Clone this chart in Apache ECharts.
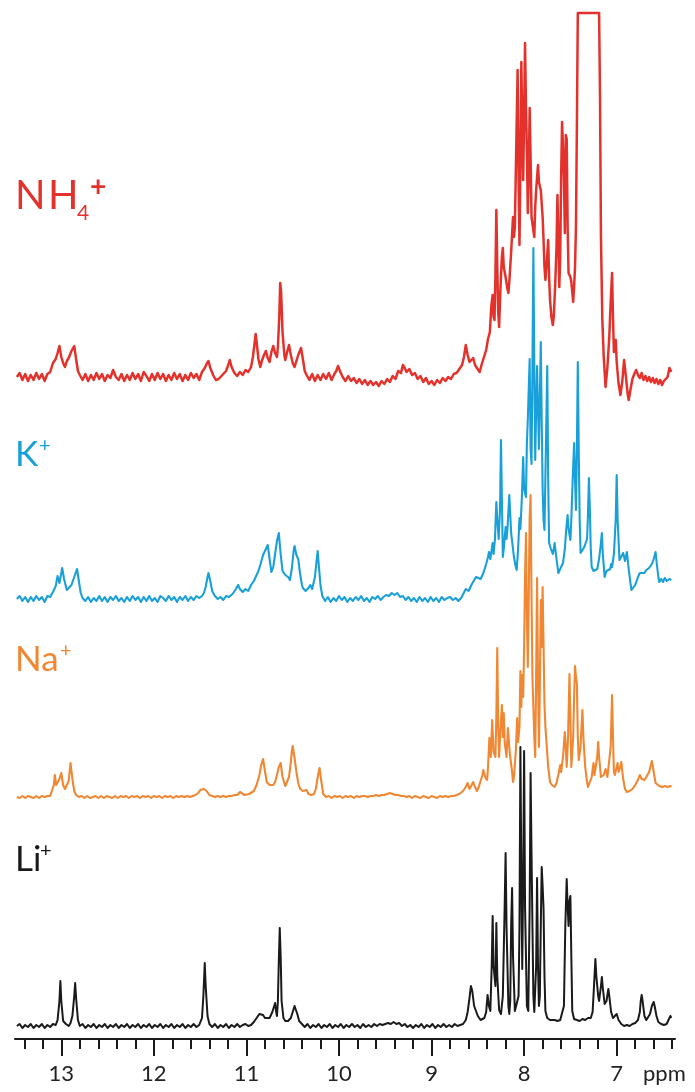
<!DOCTYPE html>
<html>
<head>
<meta charset="utf-8">
<title>1H NMR spectra</title>
<script src="https://cdn.jsdelivr.net/npm/echarts@6/dist/echarts.min.js"></script>
<style>
  html, body { margin: 0; padding: 0; background: #ffffff; }
  #chart { width: 695px; height: 1092px; }
</style>
</head>
<body>
<div id="chart"></div>
<script>
// Chemical-shift ticks (ppm)
const majorTicks = [7, 8, 9, 10, 11, 12, 13];
const minorTicks = [6.4, 6.6, 6.8, 7.2, 7.4, 7.6, 7.8, 8.2, 8.4, 8.6, 8.8, 9.2, 9.4, 9.6, 9.8,
  10.2, 10.4, 10.6, 10.8, 11.2, 11.4, 11.6, 11.8, 12.2, 12.4, 12.6, 12.8, 13.2, 13.4];

// Spectra: [ppm, intensity above own baseline]
const nh4Trace = [
 [13.48,0],[13.45,4],[13.42,-3],[13.39,3],[13.36,-4],[13.33,2],[13.30,-3],[13.27,4],[13.24,-2],[13.21,3],[13.18,-4],[13.15,3],[13.12,5],[13.09,14],[13.06,18],[13.04,24],[13.02,31],[13.00,20],[12.98,14],[12.96,10],[12.94,16],[12.92,19],[12.89,26],[12.86,31],[12.84,18],[12.82,6],[12.80,2],[12.77,-3],[12.74,3],[12.71,-4],[12.68,2],[12.65,-3],[12.62,4],[12.59,-2],[12.56,3],[12.53,-4],[12.50,2],[12.47,-1],[12.44,7],[12.41,0],[12.38,-3],[12.35,3],[12.32,-4],[12.29,2],[12.26,-3],[12.23,4],[12.20,-2],[12.17,3],[12.14,-4],[12.11,5],[12.08,1],[12.05,-4],[12.02,3],[11.99,-3],[11.96,4],[11.93,-2],[11.90,3],[11.87,-4],[11.84,2],[11.81,-3],[11.78,4],[11.75,-2],[11.72,3],[11.69,-4],[11.66,2],[11.63,-3],[11.60,4],[11.57,-1],[11.54,3],[11.51,-3],[11.48,5],[11.45,9],[11.43,13],[11.41,16],[11.39,9],[11.36,2],[11.33,-3],[11.30,-2],[11.28,-4],[11.25,3],[11.22,6],[11.20,11],[11.18,17],[11.16,10],[11.13,4],[11.10,1],[11.07,5],[11.04,2],[11.01,7],[10.98,5],[10.95,10],[10.93,20],[10.91,35],[10.90,43],[10.89,35],[10.87,18],[10.85,10],[10.83,17],[10.81,22],[10.79,26],[10.77,19],[10.75,15],[10.73,25],[10.71,31],[10.69,24],[10.67,20],[10.66,30],[10.645,60],[10.635,94],[10.625,85],[10.61,45],[10.59,22],[10.58,17],[10.56,25],[10.54,32],[10.52,22],[10.50,14],[10.48,10],[10.46,16],[10.44,22],[10.41,29],[10.39,18],[10.37,6],[10.35,2],[10.32,-3],[10.29,3],[10.26,-4],[10.23,2],[10.20,-3],[10.17,3],[10.14,-2],[10.11,4],[10.08,-3],[10.05,3],[10.03,6],[10.01,11],[9.99,6],[9.96,0],[9.93,-4],[9.90,1],[9.87,-4],[9.84,-1],[9.81,-6],[9.78,-2],[9.75,-7],[9.72,-3],[9.69,-8],[9.66,-4],[9.63,-8],[9.60,-5],[9.57,-9],[9.54,-4],[9.51,-7],[9.48,-2],[9.45,-5],[9.42,1],[9.39,-2],[9.36,6],[9.33,4],[9.31,12],[9.29,9],[9.27,5],[9.24,8],[9.21,2],[9.18,4],[9.15,-2],[9.12,1],[9.09,-5],[9.06,-1],[9.03,-7],[9.00,-4],[8.97,-8],[8.94,-3],[8.91,-6],[8.88,-1],[8.85,-4],[8.82,0],[8.79,-2],[8.76,3],[8.73,4],[8.70,8],[8.67,12],[8.65,20],[8.63,32],[8.61,22],[8.59,15],[8.57,17],[8.55,19],[8.53,12],[8.51,9],[8.48,5],[8.46,12],[8.44,18],[8.41,27],[8.39,38],[8.37,45],[8.355,70],[8.34,82],[8.33,60],[8.32,57],[8.31,100],[8.30,167],[8.29,110],[8.28,65],[8.27,50],[8.255,90],[8.24,120],[8.23,129],[8.22,110],[8.20,100],[8.18,88],[8.17,84],[8.16,95],[8.14,125],[8.12,160],[8.11,140],[8.10,150],[8.085,230],[8.07,307],[8.06,200],[8.05,132],[8.04,210],[8.03,315],[8.02,250],[8.01,197],[8.00,260],[7.99,334],[7.98,270],[7.97,227],[7.96,164],[7.95,200],[7.94,269],[7.93,220],[7.92,160],[7.91,160],[7.89,140],[7.88,170],[7.87,187],[7.85,212],[7.84,195],[7.82,187],[7.80,160],[7.79,137],[7.78,110],[7.77,97],[7.755,115],[7.74,137],[7.73,100],[7.72,77],[7.705,60],[7.69,52],[7.68,60],[7.665,90],[7.65,130],[7.64,182],[7.63,140],[7.62,90],[7.61,120],[7.60,200],[7.59,255],[7.58,230],[7.57,200],[7.56,144],[7.55,242],[7.54,238],[7.53,150],[7.52,104],[7.50,100],[7.49,95],[7.48,85],[7.47,75],[7.46,90],[7.45,110],[7.44,150],[7.43,250],[7.42,364],[7.19,364],[7.18,280],[7.17,140],[7.155,57],[7.14,20],[7.12,-10],[7.10,10],[7.08,40],[7.065,75],[7.05,104],[7.04,60],[7.03,25],[7.02,30],[7.01,37],[7.00,15],[6.98,-6],[6.96,-18],[6.94,-5],[6.92,17],[6.90,0],[6.88,-18],[6.87,-23],[6.85,-12],[6.83,-2],[6.81,3],[6.79,7],[6.77,2],[6.75,-1],[6.73,4],[6.71,-3],[6.69,1],[6.67,-4],[6.65,0],[6.63,-5],[6.61,-1],[6.59,-6],[6.57,-2],[6.55,-7],[6.53,-3],[6.51,-8],[6.49,-4],[6.47,-6],[6.45,0],[6.43,9],[6.41,5]
];

const kTrace = [
 [13.48,0],[13.45,3],[13.42,-2],[13.39,2],[13.36,-3],[13.33,2],[13.30,-2],[13.27,3],[13.24,-1],[13.21,2],[13.18,-3],[13.15,3],[13.12,2],[13.09,7],[13.06,13],[13.04,23],[13.02,16],[12.99,31],[12.97,20],[12.94,9],[12.92,10],[12.89,14],[12.86,22],[12.83,30],[12.81,18],[12.79,6],[12.77,1],[12.74,-2],[12.71,2],[12.68,-3],[12.65,1],[12.62,-2],[12.59,3],[12.56,-2],[12.53,2],[12.50,-3],[12.47,2],[12.44,-1],[12.41,3],[12.38,-2],[12.35,1],[12.32,-3],[12.29,2],[12.26,-2],[12.23,3],[12.20,-1],[12.17,2],[12.14,-3],[12.11,2],[12.08,-2],[12.05,3],[12.02,-2],[11.99,1],[11.96,-3],[11.93,3],[11.90,1],[11.87,-2],[11.84,3],[11.81,-1],[11.78,2],[11.75,-3],[11.72,2],[11.69,-1],[11.66,3],[11.63,-2],[11.60,2],[11.57,-1],[11.54,3],[11.51,1],[11.48,3],[11.46,6],[11.44,12],[11.42,22],[11.41,26],[11.39,18],[11.37,8],[11.34,3],[11.31,0],[11.28,2],[11.25,-1],[11.22,3],[11.19,2],[11.15,5],[11.12,9],[11.09,14],[11.07,10],[11.04,7],[11.01,10],[10.98,8],[10.95,14],[10.92,18],[10.89,24],[10.87,28],[10.85,34],[10.82,44],[10.79,50],[10.77,54],[10.75,40],[10.73,27],[10.71,32],[10.69,45],[10.67,58],[10.65,66],[10.63,45],[10.61,28],[10.60,26],[10.58,24],[10.57,26],[10.55,22],[10.53,19],[10.51,30],[10.49,48],[10.48,53],[10.46,44],[10.44,40],[10.42,25],[10.40,14],[10.39,11],[10.36,8],[10.33,11],[10.31,14],[10.29,10],[10.28,12],[10.26,22],[10.24,40],[10.23,48],[10.22,36],[10.20,14],[10.18,3],[10.15,-2],[10.12,2],[10.09,-3],[10.06,1],[10.03,-2],[10.00,3],[9.97,-1],[9.94,2],[9.91,-3],[9.88,1],[9.85,-2],[9.82,2],[9.79,-1],[9.76,3],[9.73,-2],[9.70,1],[9.67,-3],[9.64,2],[9.61,0],[9.58,3],[9.55,-1],[9.52,2],[9.49,4],[9.46,3],[9.43,6],[9.40,4],[9.37,6],[9.34,2],[9.31,3],[9.28,-1],[9.25,2],[9.22,-2],[9.19,1],[9.16,-3],[9.13,2],[9.10,-2],[9.07,1],[9.04,-3],[9.01,2],[8.98,-2],[8.95,1],[8.92,-3],[8.89,2],[8.86,-1],[8.83,1],[8.80,2],[8.77,-1],[8.74,1],[8.71,-2],[8.68,1],[8.66,3],[8.63,10],[8.60,8],[8.57,14],[8.55,12],[8.52,22],[8.50,24],[8.47,20],[8.44,26],[8.41,35],[8.39,42],[8.38,47],[8.365,40],[8.35,39],[8.34,56],[8.33,45],[8.315,60],[8.30,97],[8.29,80],[8.275,60],[8.26,90],[8.25,159],[8.24,100],[8.23,42],[8.22,50],[8.20,72],[8.19,60],[8.18,70],[8.16,104],[8.15,85],[8.14,66],[8.12,50],[8.11,42],[8.09,32],[8.08,29],[8.065,50],[8.05,81],[8.04,70],[8.025,100],[8.01,142],[8.00,110],[7.98,102],[7.97,156],[7.96,180],[7.95,210],[7.94,240],[7.93,150],[7.92,135],[7.91,230],[7.90,351],[7.89,230],[7.88,139],[7.87,190],[7.86,233],[7.85,190],[7.84,150],[7.83,200],[7.82,257],[7.81,180],[7.80,110],[7.79,79],[7.78,69],[7.765,150],[7.75,233],[7.74,120],[7.73,56],[7.71,50],[7.69,45],[7.68,50],[7.67,56],[7.65,40],[7.63,26],[7.61,30],[7.58,36],[7.56,50],[7.545,70],[7.53,84],[7.52,70],[7.50,59],[7.49,80],[7.475,120],[7.46,156],[7.45,120],[7.44,89],[7.43,150],[7.42,237],[7.41,150],[7.40,80],[7.39,46],[7.37,48],[7.35,52],[7.34,50],[7.32,60],[7.31,85],[7.30,121],[7.29,90],[7.28,50],[7.27,32],[7.25,28],[7.23,26],[7.21,30],[7.19,40],[7.17,56],[7.16,66],[7.15,45],[7.13,22],[7.11,28],[7.09,29],[7.07,30],[7.06,35],[7.05,32],[7.03,45],[7.01,80],[7.00,124],[6.99,80],[6.97,39],[6.95,40],[6.93,46],[6.91,38],[6.89,47],[6.87,30],[6.85,15],[6.84,9],[6.82,10],[6.80,14],[6.77,22],[6.75,26],[6.73,28],[6.70,26],[6.68,29],[6.65,31],[6.62,35],[6.60,40],[6.58,47],[6.57,38],[6.55,22],[6.54,17],[6.52,20],[6.50,17],[6.48,21],[6.46,18],[6.43,20],[6.41,19]
];

const naTrace = [
 [13.48,0],[13.45,-1],[13.42,1],[13.39,-1],[13.36,1],[13.33,0],[13.30,-1],[13.27,1],[13.24,-1],[13.21,1],[13.18,0],[13.15,1],[13.12,1],[13.10,3],[13.08,12],[13.07,22],[13.055,12],[13.04,10],[13.02,18],[13.00,24],[12.98,12],[12.96,8],[12.94,9],[12.92,16],[12.90,34],[12.88,18],[12.86,6],[12.84,2],[12.81,0],[12.78,1],[12.75,-1],[12.72,1],[12.69,-1],[12.66,0],[12.63,1],[12.60,-1],[12.57,1],[12.54,-1],[12.51,1],[12.48,0],[12.45,-1],[12.42,1],[12.39,-1],[12.36,1],[12.33,0],[12.30,1],[12.27,-1],[12.24,1],[12.21,0],[12.18,1],[12.15,-1],[12.12,1],[12.09,0],[12.06,1],[12.03,-1],[12.00,1],[11.97,0],[11.94,1],[11.91,-1],[11.88,1],[11.85,0],[11.82,1],[11.79,-1],[11.76,1],[11.73,0],[11.70,1],[11.67,0],[11.64,1],[11.61,0],[11.58,1],[11.55,2],[11.52,4],[11.50,7],[11.48,5],[11.46,8],[11.45,10],[11.43,6],[11.40,2],[11.37,1],[11.34,0],[11.31,1],[11.28,0],[11.25,1],[11.22,0],[11.19,1],[11.16,1],[11.13,2],[11.10,2],[11.07,5],[11.05,3],[11.02,2],[11.00,2],[10.97,3],[10.95,4],[10.92,6],[10.89,12],[10.86,22],[10.84,32],[10.82,38],[10.80,26],[10.78,15],[10.75,12],[10.73,11],[10.71,12],[10.69,15],[10.67,22],[10.65,30],[10.63,34],[10.61,20],[10.58,11],[10.56,12],[10.54,20],[10.52,35],[10.51,45],[10.50,51],[10.49,45],[10.48,39],[10.46,25],[10.44,14],[10.42,8],[10.39,6],[10.37,5],[10.35,7],[10.33,3],[10.30,2],[10.27,3],[10.25,8],[10.23,20],[10.21,29],[10.19,15],[10.17,3],[10.14,0],[10.11,1],[10.08,-1],[10.05,1],[10.02,0],[9.99,1],[9.96,-1],[9.93,1],[9.90,0],[9.87,1],[9.84,-1],[9.81,1],[9.78,0],[9.75,1],[9.72,1],[9.69,0],[9.66,1],[9.63,1],[9.60,2],[9.57,1],[9.54,2],[9.51,2],[9.48,3],[9.45,4],[9.42,3],[9.39,2],[9.36,2],[9.33,1],[9.30,1],[9.27,0],[9.24,1],[9.21,-1],[9.18,1],[9.15,0],[9.12,-1],[9.09,1],[9.06,0],[9.03,-1],[9.00,1],[8.97,0],[8.94,-1],[8.91,1],[8.88,0],[8.85,1],[8.82,0],[8.79,1],[8.76,1],[8.73,2],[8.70,3],[8.66,6],[8.63,10],[8.61,14],[8.59,8],[8.57,10],[8.55,15],[8.53,10],[8.51,6],[8.49,10],[8.47,16],[8.45,22],[8.44,27],[8.42,20],[8.40,17],[8.39,30],[8.375,59],[8.36,40],[8.345,77],[8.33,45],[8.31,40],[8.30,80],[8.29,149],[8.28,70],[8.27,40],[8.255,70],[8.24,92],[8.23,60],[8.22,84],[8.21,55],[8.19,40],[8.175,69],[8.16,50],[8.15,40],[8.13,25],[8.12,15],[8.11,20],[8.09,45],[8.075,79],[8.065,55],[8.05,70],[8.04,126],[8.03,90],[8.02,122],[8.01,100],[8.00,150],[7.99,220],[7.98,264],[7.97,180],[7.96,130],[7.95,200],[7.94,280],[7.93,302],[7.92,200],[7.91,120],[7.90,90],[7.89,60],[7.88,40],[7.87,120],[7.86,219],[7.85,120],[7.84,50],[7.83,110],[7.82,197],[7.81,150],[7.80,210],[7.79,150],[7.78,93],[7.77,70],[7.76,57],[7.74,30],[7.72,15],[7.70,12],[7.68,10],[7.67,10],[7.65,14],[7.63,22],[7.61,32],[7.60,25],[7.58,40],[7.56,65],[7.55,50],[7.54,30],[7.525,60],[7.51,123],[7.50,80],[7.49,30],[7.47,60],[7.46,100],[7.45,131],[7.44,120],[7.43,114],[7.42,60],[7.41,37],[7.39,50],[7.38,70],[7.37,87],[7.36,60],[7.34,30],[7.32,15],[7.31,10],[7.29,12],[7.27,20],[7.25,34],[7.24,22],[7.23,20],[7.21,40],[7.20,55],[7.19,40],[7.17,20],[7.16,19],[7.14,22],[7.12,28],[7.10,20],[7.08,22],[7.065,50],[7.05,102],[7.04,60],[7.03,25],[7.02,22],[7.00,30],[6.99,34],[6.98,25],[6.97,24],[6.96,30],[6.95,35],[6.93,18],[6.91,8],[6.89,5],[6.86,6],[6.83,8],[6.80,12],[6.77,17],[6.75,22],[6.73,18],[6.70,17],[6.68,20],[6.65,25],[6.63,32],[6.62,36],[6.60,25],[6.58,14],[6.57,12],[6.54,11],[6.51,10],[6.48,11],[6.45,10],[6.42,11],[6.41,10]
];

const liTrace = [
 [13.48,0],[13.45,2],[13.42,-2],[13.39,1],[13.36,-1],[13.33,2],[13.30,-2],[13.27,1],[13.24,-1],[13.21,2],[13.18,-2],[13.15,1],[13.12,-1],[13.09,2],[13.06,1],[13.04,6],[13.02,25],[13.01,45],[13.00,25],[12.98,5],[12.95,2],[12.92,0],[12.90,3],[12.88,10],[12.86,30],[12.85,43],[12.84,28],[12.82,6],[12.80,0],[12.77,2],[12.74,-2],[12.71,1],[12.68,-1],[12.65,2],[12.62,-2],[12.59,1],[12.56,-1],[12.53,2],[12.50,-2],[12.47,1],[12.44,-1],[12.41,2],[12.38,-2],[12.35,1],[12.32,-1],[12.29,2],[12.26,-2],[12.23,1],[12.20,-1],[12.17,2],[12.14,-2],[12.11,1],[12.08,-1],[12.05,2],[12.02,-2],[11.99,1],[11.96,-1],[11.93,2],[11.90,-2],[11.87,1],[11.84,-1],[11.81,2],[11.78,-2],[11.75,1],[11.72,-1],[11.69,2],[11.66,-2],[11.63,1],[11.60,-1],[11.57,2],[11.54,-1],[11.51,1],[11.49,3],[11.48,8],[11.465,30],[11.45,63],[11.44,40],[11.42,10],[11.40,2],[11.37,-1],[11.34,2],[11.31,-2],[11.28,1],[11.25,-1],[11.22,2],[11.19,-2],[11.16,1],[11.13,-1],[11.10,2],[11.07,-1],[11.04,1],[11.01,2],[10.98,0],[10.95,1],[10.92,4],[10.89,8],[10.86,12],[10.84,13],[10.82,11],[10.80,8],[10.78,6],[10.75,8],[10.72,14],[10.70,20],[10.69,23],[10.68,15],[10.67,10],[10.66,25],[10.65,65],[10.64,98],[10.63,70],[10.62,25],[10.60,8],[10.58,5],[10.55,5],[10.52,8],[10.50,14],[10.48,20],[10.47,20],[10.45,12],[10.43,5],[10.40,2],[10.37,-1],[10.34,2],[10.31,-2],[10.28,1],[10.25,-1],[10.22,2],[10.19,-2],[10.16,1],[10.13,-1],[10.10,2],[10.07,-2],[10.04,1],[10.01,-1],[9.98,2],[9.95,-2],[9.92,1],[9.89,-1],[9.86,2],[9.83,-1],[9.80,1],[9.77,-2],[9.74,2],[9.71,-1],[9.68,1],[9.65,-1],[9.62,2],[9.59,0],[9.56,2],[9.53,1],[9.50,2],[9.47,3],[9.44,2],[9.41,4],[9.38,2],[9.35,3],[9.32,0],[9.29,2],[9.26,-1],[9.23,1],[9.20,-2],[9.17,1],[9.14,-1],[9.11,2],[9.08,-2],[9.05,1],[9.02,-1],[8.99,2],[8.96,-2],[8.93,1],[8.90,-1],[8.87,2],[8.84,-1],[8.81,1],[8.78,-1],[8.75,2],[8.72,0],[8.69,1],[8.66,2],[8.63,6],[8.61,14],[8.59,28],[8.575,40],[8.56,35],[8.54,20],[8.52,18],[8.50,10],[8.47,6],[8.45,5],[8.43,8],[8.41,14],[8.395,31],[8.38,20],[8.365,15],[8.35,60],[8.34,110],[8.33,60],[8.31,40],[8.30,103],[8.29,50],[8.27,16],[8.25,12],[8.23,30],[8.21,120],[8.20,173],[8.19,100],[8.17,20],[8.16,12],[8.15,25],[8.14,100],[8.13,138],[8.12,70],[8.10,15],[8.08,14],[8.06,30],[8.05,100],[8.04,279],[8.03,150],[8.02,57],[8.01,150],[8.00,275],[7.99,120],[7.97,20],[7.955,15],[7.94,120],[7.93,253],[7.92,172],[7.91,100],[7.90,30],[7.89,14],[7.88,15],[7.87,60],[7.86,148],[7.85,60],[7.84,20],[7.83,30],[7.82,100],[7.81,159],[7.80,140],[7.79,117],[7.78,50],[7.77,15],[7.75,8],[7.72,6],[7.70,4],[7.67,6],[7.64,5],[7.61,6],[7.59,8],[7.57,20],[7.555,100],[7.54,147],[7.53,120],[7.52,100],[7.51,125],[7.50,130],[7.49,70],[7.48,15],[7.46,7],[7.43,6],[7.40,5],[7.37,7],[7.34,6],[7.31,8],[7.28,8],[7.26,14],[7.245,40],[7.23,67],[7.22,50],[7.20,30],[7.19,25],[7.17,40],[7.16,49],[7.15,38],[7.13,22],[7.11,25],[7.09,37],[7.08,30],[7.06,14],[7.04,8],[7.02,9],[7.00,12],[6.98,6],[6.95,2],[6.92,0],[6.89,1],[6.86,0],[6.83,2],[6.80,3],[6.77,6],[6.75,14],[6.74,25],[6.73,31],[6.72,25],[6.70,10],[6.68,6],[6.66,8],[6.64,12],[6.62,20],[6.60,24],[6.59,20],[6.57,10],[6.55,4],[6.52,2],[6.49,1],[6.46,2],[6.44,6],[6.42,10],[6.41,8]
];

// Stack layout: vertical offset of each trace's baseline (in plot units = px above axis line)
const AXIS_Y = 1039;
const LABEL_MARGIN = 24;
const stack = [
  { name: 'NH4+', data: nh4Trace, offset: 662, color: '#E3322B', width: 2.5, z: 2 },
  { name: 'Na+',  data: naTrace,  offset: 242, color: '#EF8733', width: 2.1, z: 3 },
  { name: 'K+',   data: kTrace,   offset: 440, color: '#1AA0D8', width: 2.1, z: 4 },
  { name: 'Li+',  data: liTrace,  offset: 13,  color: '#1A1A1A', width: 2.0, z: 5 }
];

const FONT = 'Lato, "Open Sans", sans-serif';

const chart = echarts.init(document.getElementById('chart'), null, { renderer: 'canvas' });

const textEl = (text, x, y, size, color, weight, vAlign) => ({
  type: 'text', x: x, y: y, silent: true,
  style: { text: text, fill: color, font: (weight || 'normal') + ' ' + size + 'px ' + FONT,
           align: 'left', verticalAlign: vAlign || 'middle' }
});

chart.setOption({
  animation: false,
  backgroundColor: '#ffffff',
  grid: { left: 15, right: 20, top: 0, bottom: 1092 - AXIS_Y, containLabel: false },
  xAxis: [
    {
      type: 'value', min: 6.37, max: 13.5, inverse: true, position: 'bottom',
      axisLine: { show: true, lineStyle: { color: '#1A1A1A', width: 2 } },
      axisTick: { show: true, customValues: majorTicks, length: 17, lineStyle: { color: '#1A1A1A', width: 2 } },
      axisLabel: { show: true, customValues: majorTicks, margin: LABEL_MARGIN, fontSize: 22,
                   fontFamily: FONT, color: '#222222' },
      splitLine: { show: false }
    },
    {
      type: 'value', min: 6.37, max: 13.5, inverse: true, position: 'bottom',
      axisLine: { show: false },
      axisTick: { show: true, customValues: minorTicks, length: 10, lineStyle: { color: '#1A1A1A', width: 2 } },
      axisLabel: { show: false },
      splitLine: { show: false }
    }
  ],
  yAxis: { type: 'value', min: 0, max: AXIS_Y, show: false },
  series: stack.map(s => ({
    type: 'line', name: s.name, xAxisIndex: 0, z: s.z,
    showSymbol: false, symbol: 'none', smooth: false, sampling: null,
    lineStyle: { color: s.color, width: s.width, join: 'round' },
    data: s.data.map(p => [p[0], p[1] + s.offset])
  })),
  graphic: [
    textEl('N', 15, 196, 40, '#E3322B'),
    textEl('H', 48, 196, 40, '#E3322B'),
    textEl('4', 77, 213, 21, '#E3322B'),
    textEl('+', 90, 187, 28, '#E3322B', 'bold'),
    textEl('K', 15, 455, 35, '#1AA0D8'),
    textEl('+', 39, 446, 20, '#1AA0D8'),
    textEl('Na', 15, 660, 35, '#EF8733'),
    textEl('+', 60, 651, 20, '#EF8733'),
    textEl('Li', 15, 860, 35, '#1A1A1A'),
    textEl('+', 40, 851, 20, '#1A1A1A'),
    textEl('ppm', 643, AXIS_Y + LABEL_MARGIN, 22, '#222222', 'normal', 'top')
  ]
});
</script>
</body>
</html>
